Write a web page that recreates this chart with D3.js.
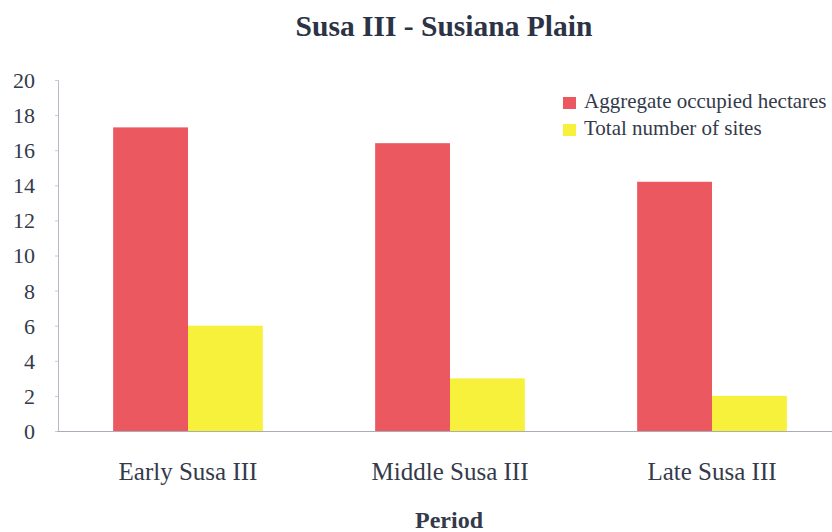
<!DOCTYPE html>
<html><head><meta charset="utf-8">
<script src="https://cdn.jsdelivr.net/npm/d3@7"></script>
<style>html,body{margin:0;padding:0;background:#fff;}svg{display:block;}
svg text{font-family:"Liberation Serif","Times New Roman",Times,"DejaVu Serif",serif !important;}
</style>
</head><body>
<script>
const categories = ["Early Susa III", "Middle Susa III", "Late Susa III"];
const seriesNames = ["Aggregate occupied hectares", "Total number of sites"];
const hectares = [17.3, 16.4, 14.2];
const sites = [6, 3, 2];
const yTicks = [0, 2, 4, 6, 8, 10, 12, 14, 16, 18, 20];
const colors = ["#ec5860", "#f8f13c"];

const W = 832, H = 532;
const txt = "#343a4a";
const svg = d3.select("body").append("svg").attr("width", W).attr("height", H);

const x0 = d3.scaleBand().domain(categories).range([57, 843]).padding(0);
const x1 = d3.scaleBand().domain(seriesNames).range([0, x0.bandwidth()]).paddingInner(0).paddingOuter(0.75);
const y = d3.scaleLinear().domain([0, 20]).range([431, 80]);

const seriesData = [hectares, sites];

// bars
seriesNames.forEach((s, si) => {
  svg.append("g").selectAll("rect").data(categories).join("rect")
    .attr("x", c => x0(c) + x1(s))
    .attr("width", x1.bandwidth())
    .attr("y", (c, i) => y(seriesData[si][i]))
    .attr("height", (c, i) => y(0) - y(seriesData[si][i]))
    .attr("fill", colors[si]);
});

// y axis
const yAxis = d3.axisLeft(y).tickValues(yTicks).tickSize(3).tickPadding(20);
const gy = svg.append("g").attr("transform", "translate(58,0)").call(yAxis);
gy.select(".domain").attr("stroke", "#b4bac8").attr("stroke-width", 1);
gy.selectAll(".tick line").attr("stroke", "#c4c9d4");
gy.selectAll(".tick text").attr("fill", txt).attr("font-size", 22).attr("dy", "0.34em");

// x axis baseline
const xAxis = d3.axisBottom(x0).tickSize(0).tickPadding(49);
const gx = svg.append("g").attr("transform", "translate(0,431)").call(xAxis);
gx.select(".domain").attr("stroke", "#a8adb8").attr("stroke-width", 1);
gx.selectAll(".tick text").attr("fill", txt).attr("font-size", 25).attr("dy", "0em");

// title
svg.append("text").attr("x", 444).attr("y", 36).attr("text-anchor", "middle")
  .attr("font-weight", "bold").attr("font-size", 29.5).attr("fill", "#2c3346")
  .text("Susa III - Susiana Plain");

// axis title
svg.append("text").attr("x", 449).attr("y", 528).attr("text-anchor", "middle")
  .attr("font-weight", "bold").attr("font-size", 24).attr("fill", txt)
  .text("Period");

// legend
const lg = svg.append("g");
seriesNames.forEach((s, i) => {
  const yy = 97 + i * 27;
  lg.append("rect").attr("x", 563).attr("y", yy).attr("width", 13).attr("height", 12).attr("fill", colors[i]);
  lg.append("text").attr("x", 584).attr("y", yy + 11).attr("font-size", 21)
    .attr("fill", txt).text(s);
});
</script>
</body></html>
